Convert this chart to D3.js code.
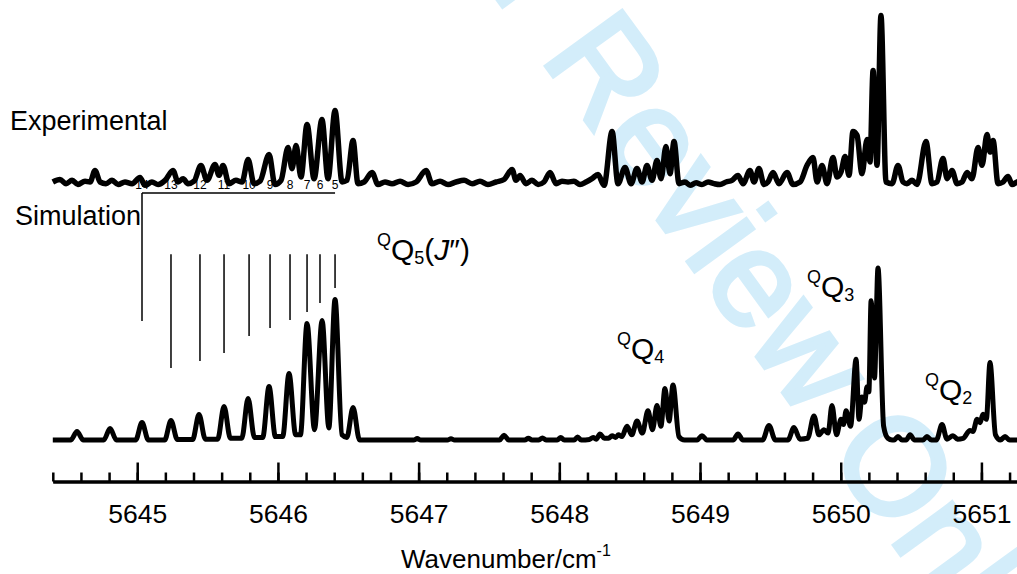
<!DOCTYPE html>
<html>
<head>
<meta charset="utf-8">
<title>QQ sub-band spectrum</title>
<script src="https://d3js.org/d3.v7.min.js"></script>
<style>
  body { margin: 0; background: #fff; }
  text { font-family: "Liberation Sans", Arial, Helvetica, sans-serif; }
</style>
</head>
<body>
<div id="chart"></div>
<script>
// experimental trace: [wavenumber, intensity] (tallest peak = 100)
const expSpectrum = [
  [5644.400,0],[5644.451,1.5],[5644.494,-1],[5644.537,1],[5644.579,-1.5],[5644.629,0.5],[5644.665,0],[5644.700,6.9],
  [5644.736,0],[5644.778,-1],[5644.821,1],[5644.864,-1.5],[5644.913,0],[5644.963,-1],[5645.020,2.7],[5645.055,-2],
  [5645.105,0],[5645.148,-1.5],[5645.198,1],[5645.254,6.9],[5645.290,0],[5645.326,2],[5645.361,-1],[5645.404,0.5],
  [5645.453,9.9],[5645.496,1],[5645.553,10.5],[5645.581,4],[5645.610,9.9],[5645.652,-1],[5645.702,1],[5645.745,0],
  [5645.788,13.5],[5645.830,-1],[5645.873,0.5],[5645.937,16.5],[5645.979,-1.5],[5646.022,1],[5646.072,20.7],[5646.100,8],
  [5646.129,21.9],[5646.164,3],[5646.207,34.5],[5646.257,2],[5646.313,37.5],[5646.356,2],[5646.406,42.9],[5646.456,0],
  [5646.491,1],[5646.534,24.9],[5646.569,-1],[5646.612,0],[5646.669,5.7],[5646.711,-1.5],[5646.761,0],[5646.811,-1],
  [5646.868,0.5],[5646.925,-1.5],[5646.982,0],[5647.053,6.9],[5647.095,-1],[5647.152,0.5],[5647.209,-1.5],[5647.266,0],
  [5647.323,1],[5647.380,-1],[5647.436,0.5],[5647.493,-1.5],[5647.550,0],[5647.607,1.5],[5647.664,7.5],[5647.692,1],
  [5647.721,3.9],[5647.763,-1],[5647.806,1],[5647.849,-1.5],[5647.891,0],[5647.934,5.7],[5647.977,-1],[5648.019,0.5],
  [5648.062,0],[5648.104,0.5],[5648.147,-1.5],[5648.190,0],[5648.232,2],[5648.275,4.5],[5648.318,-2],[5648.375,30.3],
  [5648.417,-1],[5648.467,8.7],[5648.510,-1],[5648.552,8.1],[5648.588,0],[5648.623,9.9],[5648.659,1],[5648.694,12.9],
  [5648.723,2],[5648.758,21.3],[5648.787,5],[5648.815,24.3],[5648.851,-1],[5648.893,0],[5648.929,-2],[5648.972,-0.5],
  [5649.014,-1.5],[5649.057,0],[5649.100,-1],[5649.142,-1.5],[5649.185,0],[5649.227,1],[5649.270,3.9],[5649.306,-1],
  [5649.355,6.9],[5649.384,0],[5649.419,8.1],[5649.455,-1.5],[5649.483,0],[5649.519,5.7],[5649.561,-1],[5649.618,5.7],
  [5649.661,-1.5],[5649.711,0],[5649.760,9.9],[5649.803,14.7],[5649.832,0],[5649.867,9.9],[5649.903,-1],[5649.945,14.7],
  [5649.974,3],[5650.002,6],[5650.031,15.3],[5650.059,4],[5650.087,30.3],[5650.116,28],[5650.151,5],[5650.187,25.5],
  [5650.208,12],[5650.230,66.9],[5650.258,10],[5650.286,100],[5650.322,0],[5650.365,-1],[5650.407,9.9],[5650.443,0],
  [5650.471,-1],[5650.507,1],[5650.542,-1.5],[5650.606,24.3],[5650.649,-1],[5650.684,0],[5650.727,14.1],[5650.756,2],
  [5650.791,6.9],[5650.827,-1],[5650.862,0],[5650.898,5.7],[5650.933,2],[5650.976,20.7],[5651.004,10],[5651.040,28.5],
  [5651.061,18],[5651.083,24.9],[5651.118,-1],[5651.154,0],[5651.189,3.3],[5651.218,-1.5],[5651.253,0],[5651.300,1]
];

// simulated trace: [wavenumber, intensity] (tallest peak = 100)
const simSpectrum = [
  [5644.400,0],[5644.527,0],[5644.572,4.9],[5644.617,0],[5644.762,0],[5644.807,6.7],[5644.852,0],
  [5644.989,0],[5645.034,10.2],[5645.079,0],[5645.195,0],[5645.240,11.3],[5645.285,0.3],
  [5645.394,0.3],[5645.439,14.8],[5645.484,0.5],[5645.572,0.5],[5645.617,19.5],[5645.662,1],
  [5645.743,1],[5645.788,24.1],[5645.833,1.5],[5645.892,1.5],[5645.937,31.1],[5645.982,2],
  [5646.034,2],[5646.079,38.7],[5646.126,3],[5646.160,3],[5646.207,67.7],[5646.260,6],
  [5646.314,69.5],[5646.362,7],[5646.406,81.7],[5646.455,3],[5646.490,1.5],[5646.534,18.9],[5646.580,0],
  [5646.965,0],[5646.990,0.8],[5647.015,0],[5647.205,0],[5647.230,0.7],[5647.255,0],
  [5647.575,0],[5647.607,2.8],[5647.640,0],[5647.755,0],[5647.780,1],[5647.805,0],
  [5647.855,0],[5647.880,1.2],[5647.905,0],[5647.985,0],[5648.010,1.5],[5648.035,0],
  [5648.105,0],[5648.130,1.8],[5648.155,0],[5648.215,0.3],[5648.240,1.5],[5648.262,0.5],
  [5648.289,3.5],[5648.320,1],[5648.350,1],[5648.375,2.5],[5648.400,1.5],[5648.420,3],[5648.445,2],
  [5648.481,8],[5648.515,3],[5648.552,11],[5648.590,4],[5648.630,17],[5648.662,6],
  [5648.694,20],[5648.722,8],[5648.751,30],[5648.780,11],[5648.808,32],[5648.850,2],[5648.890,0],
  [5648.980,0],[5649.014,2.5],[5649.048,0],[5649.235,0],[5649.270,3.5],[5649.305,0],
  [5649.445,0],[5649.490,8.5],[5649.535,0],[5649.625,0],[5649.668,7.3],[5649.710,0.5],
  [5649.765,1],[5649.810,14],[5649.845,3],[5649.881,6],[5649.910,4],[5649.938,20],[5649.970,3],
  [5650.002,12],[5650.020,9],[5650.038,17],[5650.070,8],[5650.109,47],[5650.130,12],
  [5650.151,25],[5650.170,22],[5650.187,31],[5650.200,28],[5650.216,81],[5650.240,36],
  [5650.265,100],[5650.305,8],[5650.335,1],[5650.365,0],[5650.380,0],[5650.407,2],[5650.435,0],
  [5650.465,0],[5650.493,3],[5650.525,0],[5650.585,0],[5650.613,2],[5650.645,0],
  [5650.680,0],[5650.720,9],[5650.755,0.5],[5650.798,2.5],[5650.830,0.5],[5650.870,1],
  [5650.919,5.5],[5650.940,5],[5650.969,12],[5650.990,10],[5651.011,15],[5651.035,12],
  [5651.061,45],[5651.100,3],[5651.135,0],[5651.168,2],[5651.200,0],[5651.300,0]
];

// QQ5 assignment comb
const combJ = [14, 13, 12, 11, 10, 9, 8, 7, 6, 5];
const combWn = [5645.034, 5645.240, 5645.446, 5645.617, 5645.795, 5645.944, 5646.086, 5646.207, 5646.299, 5646.406];
const combEnd = [69.2, 41.9, 45.9, 50.6, 60.5, 65.1, 69.8, 74.4, 79.7, 88.4];

const majorTicks = [5645, 5646, 5647, 5648, 5649, 5650, 5651];
const minorTicks = d3.range(0, 36).map(i => +(5644.4 + i * 0.2).toFixed(1));

const bandK = ["5", "4", "3", "2"];
const bandWn = [5646.704, 5648.410, 5649.760, 5650.599];
const bandLevel = [104.7, 47.1, 83.1, 23.3];

const W = 1017, H = 574;
const svg = d3.select("#chart").append("svg")
  .attr("width", W).attr("height", H)
  .style("background", "#fff");

const x = d3.scaleLinear().domain([5644.4, 5651.4]).range([52.8, 52.8 + 7 * 140.7]);
const yExp = d3.scaleLinear().domain([0, 100]).range([182, 15.5]);
const ySim = d3.scaleLinear().domain([0, 100]).range([440, 268]);

// watermark
svg.append("text")
  .attr("transform", "translate(396,-140) rotate(54)")
  .attr("font-size", 137)
  .attr("fill", "#d3edfa")
  .attr("stroke", "#d3edfa")
  .attr("stroke-width", 4)
  .text("For Review Only");

// comb
const comb = svg.append("g").attr("stroke", "#000").attr("stroke-width", 1.5);
comb.append("line")
  .attr("x1", x(combWn[0])).attr("x2", x(combWn[combWn.length - 1]))
  .attr("y1", ySim(143.6)).attr("y2", ySim(143.6));
comb.selectAll("line.stick").data(combWn).join("line")
  .attr("class", "stick")
  .attr("x1", d => x(d)).attr("x2", d => x(d))
  .attr("y1", (d, i) => i === 0 ? ySim(143.6) : ySim(108))
  .attr("y2", (d, i) => ySim(combEnd[i]));
svg.append("g").selectAll("text").data(combJ).join("text")
  .attr("x", (d, i) => x(combWn[i]))
  .attr("y", ySim(143.6) - 4)
  .attr("text-anchor", "middle")
  .attr("font-size", 12)
  .text(d => d);

// traces
const lineExp = d3.line().x(d => x(d[0])).y(d => yExp(d[1])).curve(d3.curveMonotoneX);
const lineSim = d3.line().x(d => x(d[0])).y(d => ySim(d[1])).curve(d3.curveMonotoneX);

svg.append("path").datum(expSpectrum)
  .attr("d", lineExp)
  .attr("fill", "none").attr("stroke", "#000")
  .attr("stroke-width", 5.5).attr("stroke-linejoin", "round");

svg.append("path").datum(simSpectrum)
  .attr("d", lineSim)
  .attr("fill", "none").attr("stroke", "#000")
  .attr("stroke-width", 5).attr("stroke-linejoin", "round");

// trace names
svg.append("text").attr("x", 10).attr("y", 130).attr("font-size", 27).text("Experimental");
svg.append("text").attr("x", 15).attr("y", 225).attr("font-size", 27).text("Simulation");

// band labels
bandK.forEach((k, i) => {
  const t = svg.append("text")
    .attr("x", x(bandWn[i]))
    .attr("y", ySim(bandLevel[i]))
    .attr("font-size", 30);
  t.append("tspan").attr("font-size", 18).attr("dy", -14).text("Q");
  t.append("tspan").attr("dy", 14).text("Q");
  t.append("tspan").attr("font-size", 18).attr("dy", 4).text(k);
  if (i === 0) {
    t.append("tspan").attr("dy", -4).text("(");
    t.append("tspan").attr("font-style", "italic").text("J");
    t.append("tspan").text("″)");
  }
});

// axis
const axisY = 481.5;
svg.append("g").attr("transform", `translate(0,${axisY})`)
  .call(d3.axisBottom(x).tickValues(minorTicks).tickSizeInner(-9).tickSizeOuter(0).tickFormat(""));
const gMajor = svg.append("g").attr("transform", `translate(0,${axisY})`)
  .call(d3.axisBottom(x).tickValues(majorTicks).tickSizeInner(-19).tickSizeOuter(0)
    .tickPadding(23).tickFormat(d3.format("d")));
svg.selectAll(".domain").attr("stroke-width", 3).attr("stroke", "#000");
svg.selectAll(".tick line").attr("stroke-width", 2.5).attr("stroke", "#000");
gMajor.selectAll(".tick text")
  .attr("font-size", 26.5)
  .attr("font-family", "'Liberation Sans', Arial, Helvetica, sans-serif")
  .attr("fill", "#000");

const xl = svg.append("text").attr("x", 401).attr("y", 568).attr("font-size", 26);
xl.append("tspan").text("Wavenumber/cm");
xl.append("tspan").attr("font-size", 16).attr("dy", -12).text("-1");
</script>
</body>
</html>
